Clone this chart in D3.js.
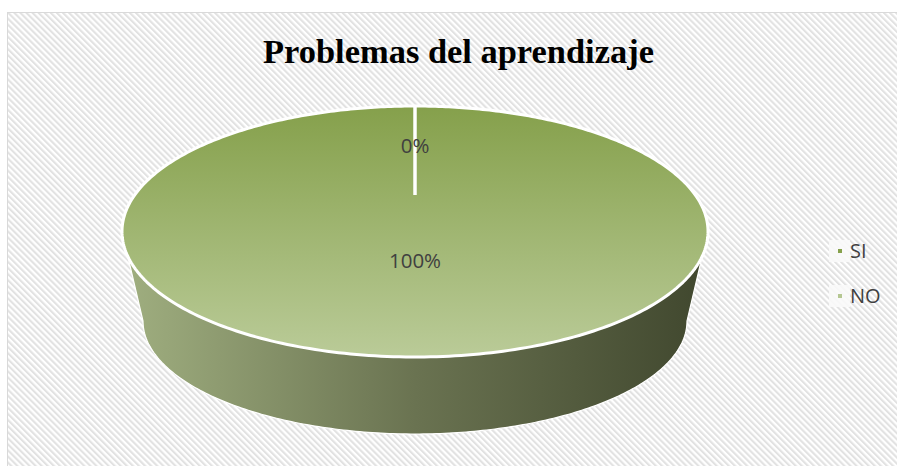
<!DOCTYPE html>
<html><head><meta charset="utf-8">
<script src="https://cdn.jsdelivr.net/npm/d3@7"></script>
<style>html,body{margin:0;padding:0;background:#fff;overflow:hidden;}svg{display:block;overflow:hidden;}</style>
</head><body>
<svg id="c" width="897" height="466"></svg>
<script>
const categories = ["SI", "NO"];
const values = [0, 100];
const labels = ["0%", "100%"];
const title = "Problemas del aprendizaje";

const svg = d3.select("#c");
const defs = svg.append("defs");

// background stripes
const pat = defs.append("pattern").attr("id","stripes").attr("patternUnits","userSpaceOnUse")
  .attr("width",4.3).attr("height",4.3).attr("patternTransform","rotate(-45)");
pat.append("rect").attr("width",4.3).attr("height",4.3).attr("fill","#ffffff");
pat.append("rect").attr("width",2.1).attr("height",4.3).attr("fill","#e2e2e2");

svg.append("rect").attr("x",7.5).attr("y",12.5).attr("width",1000).attr("height",600)
  .attr("fill","url(#stripes)").attr("stroke","#d9d9d9").attr("stroke-width",1);

// title
const t = svg.append("text").attr("x",458.5).attr("y",63)
  .attr("text-anchor","middle").attr("font-family","'Liberation Serif', 'DejaVu Serif', serif")
  .attr("font-weight","bold").attr("font-size",30).attr("fill","#000").text(title);
const tw = t.node().getComputedTextLength();
t.attr("font-size", 30 * 391 / tw);

// geometry
const cx = 415, topY = 106, botY = 357, pcy = 195;
const rx = 293, ecy = (topY + botY) / 2, ery = (botY - topY) / 2;

// projective parameters so the unit disk maps onto the tilted ellipse
const PC = ((pcy - topY) - (botY - pcy)) / (botY - topY);
const PA = (pcy - topY) + topY * PC;
let PD;
(function(){
  let m = 0;
  for (let i = 0; i < 2000; i++) {
    const th = i / 2000 * 2 * Math.PI;
    const x = Math.sin(th), y = -Math.cos(th);
    m = Math.max(m, Math.abs(x / (1 + PC * y)));
  }
  PD = rx / m;
})();
function proj(theta, r){
  const x = r * Math.sin(theta), y = -r * Math.cos(theta);
  const den = 1 + PC * y;
  return [cx + PD * x / den, (PA * y + pcy) / den];
}

const pie = d3.pie().sort(null).value(d => d)(values);
const colorScale = d3.scaleOrdinal().domain(categories).range(["#86a14c", "#b5c792"]);

// gradients
const gTop = defs.append("linearGradient").attr("id","gTop").attr("gradientUnits","userSpaceOnUse")
  .attr("x1",0).attr("y1",topY).attr("x2",0).attr("y2",botY);
gTop.append("stop").attr("offset",0).attr("stop-color","#85a04b");
gTop.append("stop").attr("offset",1).attr("stop-color","#bacb98");
const gSide = defs.append("linearGradient").attr("id","gSide").attr("gradientUnits","userSpaceOnUse")
  .attr("x1",cx-rx).attr("y1",0).attr("x2",cx+rx).attr("y2",0);
gSide.append("stop").attr("offset",0).attr("stop-color","#a0af80");
gSide.append("stop").attr("offset",0.5).attr("stop-color","#6a7351");
gSide.append("stop").attr("offset",1).attr("stop-color","#40472e");

// side wall
const bRx = 272, bRy = 113, bCy = 434 - 113;
const line = d3.line();
const sidePts = [];
const N = 200;
for (let i = 0; i <= N; i++) { const tt = Math.PI - i / N * Math.PI; sidePts.push([cx + rx*Math.cos(tt), ecy + ery*Math.sin(tt)]); }
for (let i = 0; i <= N; i++) { const tt = i / N * Math.PI; sidePts.push([cx + bRx*Math.cos(tt), bCy + bRy*Math.sin(tt)]); }
svg.append("path").attr("d", line(sidePts) + "Z").attr("fill","url(#gSide)")
  .attr("stroke","#ffffff").attr("stroke-width",1.2);

// top slices
pie.forEach((d, i) => {
  if (d.endAngle - d.startAngle <= 0) return;
  const pts = [];
  const n = Math.max(2, Math.ceil((d.endAngle - d.startAngle) / (2*Math.PI) * 400));
  for (let k = 0; k <= n; k++) pts.push(proj(d.startAngle + (d.endAngle - d.startAngle) * k / n, 1));
  const full = (d.endAngle - d.startAngle) >= 2*Math.PI - 1e-9;
  const path = full ? line(pts) + "Z" : line([proj(0,0), ...pts]) + "Z";
  svg.append("path").attr("d", path).attr("fill","url(#gTop)")
    .attr("stroke","#ffffff").attr("stroke-width",3).attr("stroke-linejoin","round");
});
// slice boundary lines
pie.forEach(d => {
  const p0 = proj(0,0), p1 = proj(d.startAngle,1);
  svg.append("line").attr("x1",p0[0]).attr("y1",p0[1]).attr("x2",p1[0]).attr("y2",p1[1])
    .attr("stroke","#ffffff").attr("stroke-width",3);
});
// labels
pie.forEach((d, i) => {
  const mid = (d.startAngle + d.endAngle) / 2;
  const p = proj(mid, 0.49);
  svg.append("text").attr("x",p[0]).attr("y",p[1]).attr("dy","0.36em").attr("text-anchor","middle")
    .attr("font-family","'Open Sans', 'Liberation Sans', sans-serif").attr("font-size",20.5)
    .attr("fill","#404040").text(labels[i]);
});

// legend
const legY = d3.scalePoint().domain(categories).range([251, 296]);
categories.forEach(cat => {
  const y = legY(cat);
  svg.append("rect").attr("x",829).attr("y",y-11).attr("width",21).attr("height",22).attr("fill","#fafafa").attr("opacity",0.9);
  svg.append("rect").attr("x",838).attr("y",y-2).attr("width",4).attr("height",4).attr("fill",colorScale(cat));
  svg.append("text").attr("x",850).attr("y",y).attr("dy","0.36em")
    .attr("font-family","'Open Sans', 'Liberation Sans', sans-serif").attr("font-size",20)
    .attr("fill","#404040").text(cat);
});
</script>
</body></html>
